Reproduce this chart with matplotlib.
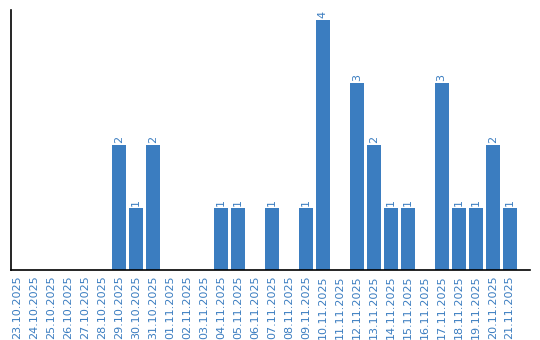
import matplotlib
matplotlib.use('Agg')
import matplotlib.pyplot as plt

# daily counts
dates = ['23.10.2025', '24.10.2025', '25.10.2025', '26.10.2025', '27.10.2025',
         '28.10.2025', '29.10.2025', '30.10.2025', '31.10.2025', '01.11.2025',
         '02.11.2025', '03.11.2025', '04.11.2025', '05.11.2025', '06.11.2025',
         '07.11.2025', '08.11.2025', '09.11.2025', '10.11.2025', '11.11.2025',
         '12.11.2025', '13.11.2025', '14.11.2025', '15.11.2025', '16.11.2025',
         '17.11.2025', '18.11.2025', '19.11.2025', '20.11.2025', '21.11.2025']
counts = [0, 0, 0, 0, 0, 0, 2, 1, 2, 0, 0, 0, 1, 1, 0,
          1, 0, 1, 4, 0, 3, 2, 1, 1, 0, 3, 1, 1, 2, 1]

blue = '#3b7dc0'

fig = plt.figure(figsize=(5.4, 3.4), dpi=100)
ax = fig.add_axes([11 / 540, 70 / 340, 519 / 540, 260 / 340])

x = list(range(len(dates)))
ax.bar(x, counts, width=0.82, color=blue)

for i, v in enumerate(counts):
    if v > 0:
        ax.text(i, v + 0.03, str(v), rotation=90, ha='center', va='bottom',
                color=blue, fontsize=8, family='DejaVu Sans')

ax.set_xlim(-0.35, 30.2)
ax.set_ylim(0, 4.16)
ax.set_yticks([])
ax.set_xticks(x)
ax.set_xticklabels(dates, rotation=90, color=blue, fontsize=8,
                   family='DejaVu Sans')
ax.tick_params(axis='x', length=0, pad=4)

ax.spines['top'].set_visible(False)
ax.spines['right'].set_visible(False)
ax.spines['left'].set_linewidth(1.2)
ax.spines['bottom'].set_linewidth(1.2)

fig.savefig('out.png', dpi=100)
